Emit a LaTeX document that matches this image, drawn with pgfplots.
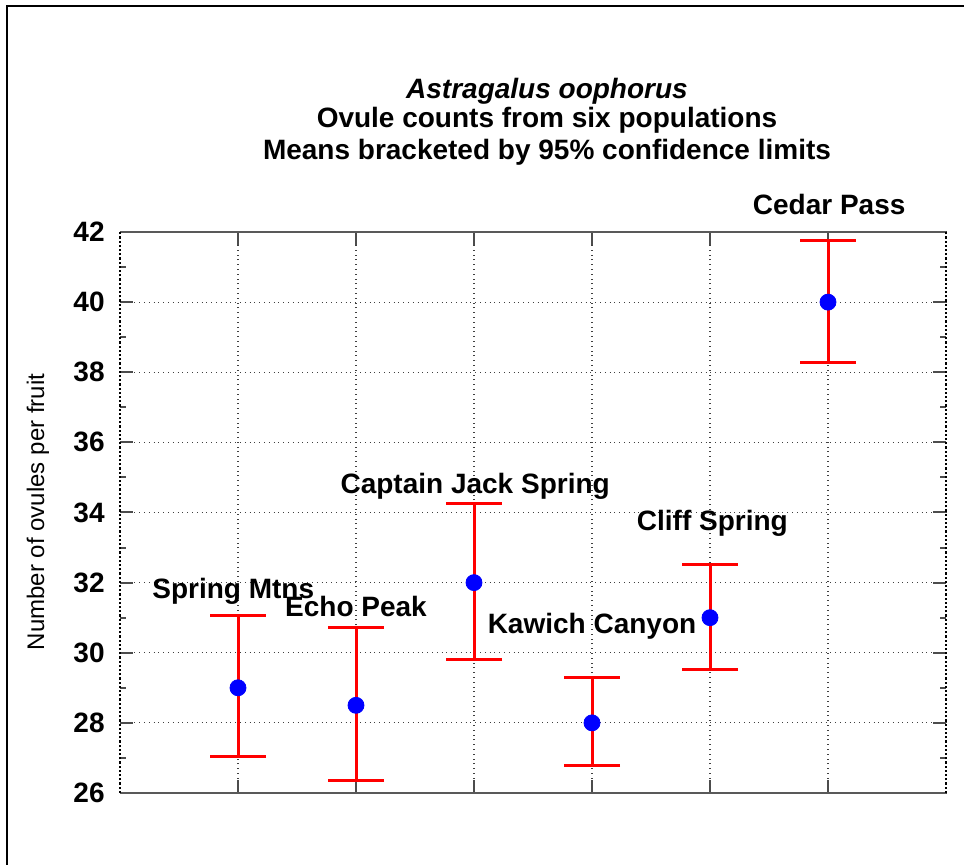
\documentclass[border=0pt]{standalone}
\usepackage{fontspec}
\setmainfont{Liberation Sans}
\usepackage{pgfplots}
\pgfplotsset{compat=1.18}
\begin{document}
\begin{tikzpicture}
\useasboundingbox (0,0) rectangle (482pt,432.5pt);
\draw[line width=1.2pt] (3.5pt,-10pt) -- (3.5pt,429.5pt) -- (490pt,429.5pt);
\node[anchor=base,font=\fontsize{14pt}{16pt}\selectfont\bfseries\itshape] at (273.5pt,383pt) {Astragalus oophorus};
\node[anchor=base,font=\fontsize{14pt}{16pt}\selectfont\bfseries] at (273.5pt,368.5pt) {Ovule counts from six populations};
\node[anchor=base,font=\fontsize{14pt}{16pt}\selectfont\bfseries] at (273.5pt,352.5pt) {Means bracketed by 95\% confidence limits};
\node[rotate=90,font=\fontsize{12pt}{14pt}\selectfont] at (19pt,176.5pt) {Number of ovules per fruit};
\begin{axis}[
  at={(60pt,36pt)}, anchor=south west,
  scale only axis, width=413pt, height=280.5pt,
  xmin=0, xmax=7, ymin=26, ymax=42,
  xtick={1,2,3,4,5,6}, xticklabels={},
  ytick={26,28,30,32,34,36,38,40,42},
  minor y tick num=1,
  tick align=inside,
  major tick length=6.5pt, minor tick length=3pt,
  tick style={black!70, line width=1pt},
  grid=major,
  major grid style={black!75, dotted, line width=0.6pt},
  separate axis lines,
  x axis line style={black!65, line width=1.1pt},
  y axis line style={black, line width=1.1pt, densely dotted},
  /pgf/number format/assume math mode=true,
  yticklabel style={font=\fontsize{14pt}{16pt}\selectfont\bfseries, inner sep=0pt, xshift=-7.5pt},
  clip=false,
]
\addplot[only marks, red, line width=1.5pt, mark=*, mark size=4pt,
  mark options={fill=blue, draw=blue, line width=0.4pt},
  error bars/.cd, y dir=both, y explicit,
  error mark=|,
  error bar style={red, line width=1.5pt, solid},
  error mark options={red, line width=1.5pt, mark size=14pt}]
coordinates {
  (1,29.0) += (0,2.05) -= (0,1.97)
  (2,28.5) += (0,2.22) -= (0,2.13)
  (3,32.0) += (0,2.27) -= (0,2.18)
  (4,28.0) += (0,1.30) -= (0,1.22)
  (5,31.0) += (0,1.53) -= (0,1.47)
  (6,40.0) += (0,1.76) -= (0,1.71)
};
\begin{scope}[every node/.style={anchor=base, font=\fontsize{14pt}{16pt}\selectfont\bfseries, inner sep=0pt}]
\node at (axis cs:0.96,31.56) {Spring Mtns};
\node at (axis cs:2.0,31.02) {Echo Peak};
\node at (axis cs:3.01,34.53) {Captain Jack Spring};
\node at (axis cs:4.0,30.54) {Kawich Canyon};
\node at (axis cs:5.02,33.50) {Cliff Spring};
\node at (axis cs:6.01,42.49) {Cedar Pass};
\end{scope}
\end{axis}
\end{tikzpicture}
\end{document}
